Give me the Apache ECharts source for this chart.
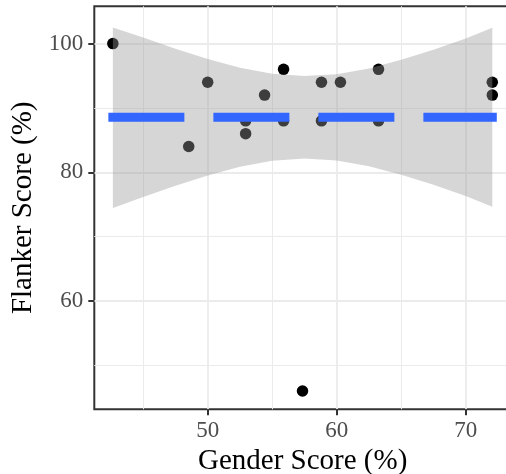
<!DOCTYPE html>
<html>
<head>
<meta charset="utf-8">
<script src="https://cdn.jsdelivr.net/npm/echarts@6/dist/echarts.min.js"></script>
<style>
html,body{margin:0;padding:0;background:#fff;}
#chart{width:506px;height:474px;}
</style>
</head>
<body>
<div id="chart"></div>
<script>
// Observed data: Gender Score (%) vs Flanker Score (%)
const genderScore  = [42.65, 48.53, 50.00, 52.94, 52.94, 54.41, 55.88, 55.88, 57.35, 58.82, 58.82, 60.29, 63.24, 63.24, 72.06, 72.06];
const flankerScore = [100,   84,    94,    88,    86,    92,    96,    88,    46,    94,    88,    94,    96,    88,    94,    92];

// Linear fit line and its confidence band
const fitX = [42.65, 72.06];
const fitY = [88.55, 88.55];
const bandX     = [42.65, 45,    47.5,  50,    52.5,  55,    57.5,  60,    62.5,  65,    67.5,  70,    72.06];
const bandUpper = [102.5, 100.95, 99.2, 97.6,  96.25, 95.3,  94.95, 95.25, 96.15, 97.5,  99.05, 100.8, 102.45];
const bandLower = [74.45, 76.15, 77.9,  79.5,  80.85, 81.8,  82.15, 81.85, 80.95, 79.6,  78.05, 76.3,  74.65];

// Axis ticks
const xTicks = [50, 60, 70];
const xMinor = [45, 55, 65];
const yTicks = [60, 80, 100];
const yMinor = [50, 70, 90];

const FONT = 'Liberation Serif';
const chart = echarts.init(document.getElementById('chart'), null, {renderer: 'canvas'});

const points = genderScore.map((x, i) => [x, flankerScore[i]]);
const fitData = fitX.map((x, i) => [x, fitY[i]]);

const minorLines = xMinor.map(v => ({xAxis: v})).concat(yMinor.map(v => ({yAxis: v})));

chart.setOption({
  animation: false,
  backgroundColor: '#ffffff',
  grid: {
    left: 94.3, top: 6.3, right: -5, bottom: 64.7,
    show: true, borderColor: '#333333', borderWidth: 2, backgroundColor: 'transparent',
    containLabel: false, outerBoundsMode: 'none'
  },
  xAxis: {
    type: 'value', min: 41.21, max: 73.51,
    name: 'Gender Score (%)', nameLocation: 'middle', nameGap: 33,
    nameTextStyle: {fontFamily: FONT, fontSize: 29, color: '#000000'},
    axisLine: {show: false},
    axisTick: {show: true, length: 6, customValues: xTicks, lineStyle: {color: '#333333', width: 2}},
    axisLabel: {fontFamily: FONT, fontSize: 23, color: '#4D4D4D', margin: 10, customValues: xTicks},
    splitLine: {show: true, lineStyle: {color: '#EBEBEB', width: 1.8}}
  },
  yAxis: {
    type: 'value', min: 43.16, max: 105.8,
    name: 'Flanker Score (%)', nameLocation: 'middle', nameGap: 55,
    nameTextStyle: {fontFamily: FONT, fontSize: 29, color: '#000000'},
    axisLine: {show: false},
    axisTick: {show: true, length: 6, customValues: yTicks, lineStyle: {color: '#333333', width: 2}},
    axisLabel: {fontFamily: FONT, fontSize: 23, color: '#4D4D4D', margin: 11, customValues: yTicks},
    splitLine: {show: true, lineStyle: {color: '#EBEBEB', width: 1.8}}
  },
  series: [
    {
      type: 'scatter', z: 2, data: points, symbol: 'circle', symbolSize: 11.5,
      itemStyle: {color: '#000000', opacity: 1}, silent: true,
      markLine: {
        silent: true, symbol: ['none', 'none'], z: 1, animation: false,
        label: {show: false},
        lineStyle: {color: '#EBEBEB', width: 1, type: 'solid', opacity: 1},
        emphasis: {disabled: true},
        data: minorLines
      }
    },
    {
      type: 'custom', z: 3, silent: true,
      coordinateSystem: 'cartesian2d',
      data: [[bandX[0], bandLower[0]]],
      renderItem: function (params, api) {
        const pts = [];
        for (let i = 0; i < bandX.length; i++) pts.push(api.coord([bandX[i], bandUpper[i]]));
        for (let i = bandX.length - 1; i >= 0; i--) pts.push(api.coord([bandX[i], bandLower[i]]));
        return {type: 'polygon', shape: {points: pts, smooth: 0}, style: {fill: 'rgba(153,153,153,0.4)'}};
      }
    },
    {
      type: 'line', z: 4, data: fitData, showSymbol: false, symbol: 'none', silent: true,
      lineStyle: {color: '#3366FF', width: 9, type: [67, 38], cap: 'square'}
    }
  ]
});
</script>
</body>
</html>
